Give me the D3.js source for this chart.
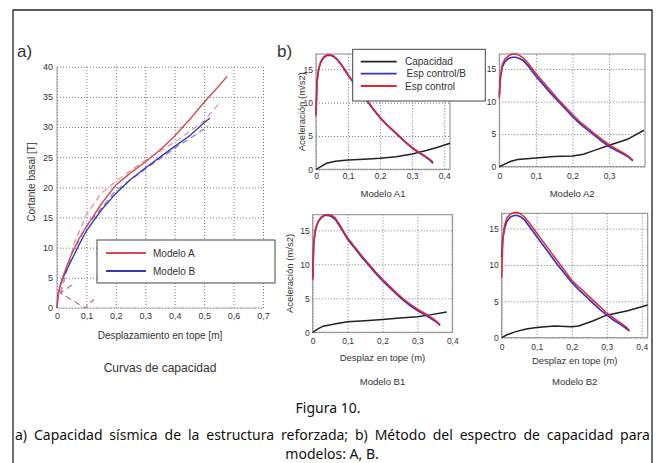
<!DOCTYPE html>
<html>
<head>
<meta charset="utf-8">
<script src="https://cdn.jsdelivr.net/npm/d3@7"></script>
<style>
  body { margin: 0; background: #fff; }
  svg { display: block; }
  .plot text { font-family: "Liberation Sans", Arial, sans-serif; fill: #333; }
  .caption { font-family: "Noto Sans", sans-serif; font-size: 14px; fill: #111; }
</style>
</head>
<body>
<svg id="fig" width="656" height="463"></svg>
<script>
// ---- a) curvas de capacidad ----
var despModeloA = [0, 0.005, 0.015, 0.03, 0.05, 0.075, 0.1, 0.15, 0.2, 0.25, 0.3, 0.35, 0.4, 0.45, 0.5, 0.55, 0.578];
var cortModeloA = [0, 2.5, 4.5, 6.5, 9, 11.5, 13.5, 17.2, 20.4, 22.4, 24.2, 26.2, 28.5, 31.2, 34.1, 36.8, 38.4];
var despModeloB = [0, 0.003, 0.01, 0.02, 0.035, 0.05, 0.075, 0.1, 0.15, 0.2, 0.25, 0.3, 0.35, 0.4, 0.45, 0.5, 0.52];
var cortModeloB = [0, 2, 3.5, 5, 6.5, 8, 10.5, 12.8, 16.2, 19, 21.3, 23.2, 25, 26.8, 28.5, 30.7, 31.5];
var despBilinA = [0.012, 0.06, 0.1, 0.15, 0.2, 0.3, 0.4, 0.5, 0.555];
var cortBilinA = [2.5, 11, 15.5, 19, 21, 24.5, 27.5, 31, 34.2];
var despBilinB = [0.012, 0.05, 0.1, 0.2, 0.3, 0.4, 0.48, 0.514];
var cortBilinB = [2.5, 9, 13.5, 19.5, 23, 26.5, 29, 30.2];
var despRetorno = [0.05, 0.012, 0.095, 0.125];
var cortRetorno = [3.8, 2.5, 0, 1.4];
var ticksDespA = [0, 0.1, 0.2, 0.3, 0.4, 0.5, 0.6, 0.7];
var ticksCort = [0, 5, 10, 15, 20, 25, 30, 35, 40];

// ---- b) espectro de capacidad ----
var despEsp = [0, 0.003, 0.008, 0.015, 0.025, 0.035, 0.045, 0.055, 0.065, 0.08, 0.1, 0.12, 0.14, 0.16, 0.18, 0.2, 0.22, 0.24, 0.26, 0.28, 0.3, 0.32, 0.34, 0.355, 0.365];
var espA1 = [8.0, 13.0, 15.0, 16.2, 16.9, 17.2, 17.2, 17.0, 16.6, 15.7, 14.2, 12.9, 11.6, 10.3, 9.0, 7.8, 6.8, 5.9, 5.0, 4.1, 3.3, 2.6, 2.0, 1.5, 1.1];
var espBA1 = [8.2, 13.1, 15.0, 16.1, 16.8, 17.1, 17.1, 16.9, 16.5, 15.6, 14.1, 12.8, 11.5, 10.2, 8.9, 7.7, 6.7, 5.8, 4.9, 4.0, 3.2, 2.5, 1.9, 1.4, 0.9];
var espA2 = [10.5, 13.8, 15.6, 16.5, 17.0, 17.3, 17.3, 17.1, 16.7, 15.8, 14.3, 13.0, 11.7, 10.4, 9.2, 8.0, 6.9, 6.0, 5.1, 4.2, 3.4, 2.7, 2.1, 1.5, 1.0];
var espBA2 = [11.0, 13.6, 15.3, 16.1, 16.6, 16.8, 16.8, 16.6, 16.3, 15.4, 13.9, 12.6, 11.3, 10.1, 8.9, 7.7, 6.6, 5.7, 4.8, 3.9, 3.1, 2.5, 1.9, 1.4, 0.9];
var espB1 = [7.7, 13.2, 15.2, 16.3, 17.0, 17.3, 17.3, 17.2, 16.8, 15.6, 13.9, 12.6, 11.3, 10.1, 8.9, 7.8, 6.8, 5.8, 4.9, 4.1, 3.4, 2.8, 2.2, 1.6, 1.1];
var espBB1 = [7.9, 13.1, 15.1, 16.2, 16.9, 17.2, 17.2, 17.0, 16.6, 15.4, 13.7, 12.4, 11.1, 9.9, 8.7, 7.6, 6.6, 5.6, 4.7, 3.9, 3.2, 2.6, 2.0, 1.5, 1.0];
var espB2 = [8.2, 13.4, 15.4, 16.5, 17.0, 17.2, 17.2, 17.0, 16.6, 15.7, 14.4, 13.1, 11.8, 10.5, 9.2, 7.9, 7.0, 6.1, 5.2, 4.3, 3.4, 2.7, 2.0, 1.5, 1.0];
var espBB2 = [11.1, 13.5, 15.0, 16.0, 16.6, 16.8, 16.8, 16.6, 16.2, 15.2, 13.9, 12.6, 11.3, 10.0, 8.8, 7.6, 6.6, 5.7, 4.8, 3.9, 3.1, 2.4, 1.8, 1.3, 0.9];

var despCapA1 = [0, 0.015, 0.033, 0.06, 0.1, 0.15, 0.2, 0.25, 0.3, 0.35, 0.38, 0.418];
var capA1 = [0, 0.4, 0.9, 1.2, 1.4, 1.5, 1.65, 1.9, 2.3, 2.9, 3.3, 3.9];
var despCapA2 = [0, 0.015, 0.03, 0.05, 0.1, 0.15, 0.2, 0.23, 0.26, 0.3, 0.35, 0.395];
var capA2 = [0, 0.4, 0.8, 1.1, 1.35, 1.55, 1.65, 1.9, 2.5, 3.3, 4.2, 5.6];
var despCapB1 = [0, 0.015, 0.03, 0.07, 0.1, 0.15, 0.2, 0.25, 0.3, 0.34, 0.384];
var capB1 = [0, 0.5, 0.9, 1.3, 1.55, 1.7, 1.9, 2.1, 2.3, 2.6, 3.0];
var despCapB2 = [0, 0.015, 0.038, 0.07, 0.1, 0.15, 0.2, 0.22, 0.26, 0.3, 0.36, 0.417];
var capB2 = [0, 0.4, 0.8, 1.2, 1.4, 1.6, 1.5, 1.6, 2.3, 3.1, 3.7, 4.5];
var ticksDespB = [0, 0.1, 0.2, 0.3, 0.4];
var ticksAcel = [0, 5, 10, 15];

var svg = d3.select("#fig");
svg.append("rect").attr("width", 656).attr("height", 463).attr("fill", "#fff");

function fmt(d) { return String(d).replace(".", ","); }
function pts(xs, ys) { return xs.map(function(v, i) { return [v, ys[i]]; }); }

// outer frame
svg.append("path")
    .attr("d", "M13,463V10H652V463")
    .attr("fill", "none").attr("stroke", "#222").attr("stroke-width", 1.3);

// ===== panel a =====
var pa = svg.append("g").attr("class", "plot");
var xa = d3.scaleLinear().domain([0, 0.7]).range([57, 263]);
var ya = d3.scaleLinear().domain([0, 40]).range([308, 66.7]);

pa.append("g")
    .attr("transform", "translate(0,308)")
    .call(d3.axisBottom(xa).tickValues(ticksDespA).tickFormat(fmt).tickSize(-(308 - 66.7)).tickPadding(5))
    .call(function(g) { g.select(".domain").remove(); });
pa.append("g")
    .attr("transform", "translate(57,0)")
    .call(d3.axisLeft(ya).tickValues(ticksCort).tickSize(-(263 - 57)).tickPadding(4))
    .call(function(g) { g.select(".domain").remove(); });
pa.selectAll(".tick line").attr("stroke", "#777").attr("stroke-dasharray", "1,2");
pa.selectAll(".tick text").attr("font-size", 9);
pa.append("line").attr("x1", 57).attr("x2", 57).attr("y1", 66.7).attr("y2", 308).attr("stroke", "#999");
pa.append("line").attr("x1", 57).attr("x2", 263).attr("y1", 308).attr("y2", 308).attr("stroke", "#bbb");

var lineA = d3.line().x(function(d) { return xa(d[0]); }).y(function(d) { return ya(d[1]); });
pa.append("path").attr("d", lineA(pts(despBilinB, cortBilinB)))
    .attr("fill", "none").attr("stroke", "#8a7cc9").attr("stroke-width", 1.2).attr("stroke-dasharray", "6,4");
pa.append("path").attr("d", lineA(pts(despBilinA, cortBilinA)))
    .attr("fill", "none").attr("stroke", "#dc8d9b").attr("stroke-width", 1.2).attr("stroke-dasharray", "6,4");
pa.append("path").attr("d", lineA(pts(despRetorno, cortRetorno)))
    .attr("fill", "none").attr("stroke", "#b06c8e").attr("stroke-width", 1.2).attr("stroke-dasharray", "6,4");
pa.append("path").attr("d", lineA(pts(despModeloB, cortModeloB)))
    .attr("fill", "none").attr("stroke", "#3a3ab8").attr("stroke-width", 1.4);
pa.append("path").attr("d", lineA(pts(despModeloA, cortModeloA)))
    .attr("fill", "none").attr("stroke", "#d64a4e").attr("stroke-width", 1.4);

pa.append("text").attr("x", 17).attr("y", 57).attr("font-size", 17).text("a)");
pa.append("text").attr("transform", "translate(35,182) rotate(-90)")
    .attr("text-anchor", "middle").attr("font-size", 10).text("Cortante basal [T]");
pa.append("text").attr("x", 160).attr("y", 339).attr("text-anchor", "middle")
    .attr("font-size", 10).text("Desplazamiento en tope [m]");
pa.append("text").attr("x", 160).attr("y", 372).attr("text-anchor", "middle")
    .attr("font-size", 12).text("Curvas de capacidad");

// legend a
var legA = pa.append("g");
legA.append("rect").attr("x", 97).attr("y", 240).attr("width", 178).attr("height", 43)
    .attr("fill", "#fff").attr("stroke", "#444").attr("stroke-width", 1);
[["Modelo A", "#d64a4e", 253], ["Modelo B", "#3a3ab8", 271]].forEach(function(e) {
  legA.append("line").attr("x1", 106).attr("x2", 146).attr("y1", e[2]).attr("y2", e[2])
      .attr("stroke", e[1]).attr("stroke-width", 1.8);
  legA.append("text").attr("x", 153).attr("y", e[2] + 3.5).attr("font-size", 10).text(e[0]);
});

// ===== panel b =====
var pb = svg.append("g").attr("class", "plot");
pb.append("text").attr("x", 277).attr("y", 57).attr("font-size", 17).text("b)");

function subplot(cfg) {
  var g = pb.append("g");
  var x = d3.scaleLinear().domain([0, cfg.xmax]).range([cfg.left, cfg.right]);
  var y = d3.scaleLinear().domain([0, cfg.ymax]).range([cfg.bottom, cfg.top]);
  var h = cfg.bottom - cfg.top, w = cfg.right - cfg.left;

  g.append("g")
      .attr("transform", "translate(0," + cfg.bottom + ")")
      .call(d3.axisBottom(x).tickValues(ticksDespB.filter(function(t) { return t <= cfg.xmax + 1e-6; }))
        .tickFormat(fmt).tickSize(-h).tickPadding(cfg.xpad))
      .call(function(s) { s.select(".domain").remove(); });
  g.append("g")
      .attr("transform", "translate(" + cfg.left + ",0)")
      .call(d3.axisLeft(y).tickValues(ticksAcel).tickSize(-w).tickPadding(3))
      .call(function(s) { s.select(".domain").remove(); });
  g.selectAll(".tick line").attr("stroke", "#777").attr("stroke-dasharray", "1,2");
  g.selectAll(".tick text").attr("font-size", 8.5);
  g.append("rect").attr("x", cfg.left).attr("y", cfg.top).attr("width", w).attr("height", h)
      .attr("fill", "none").attr("stroke", "#888").attr("stroke-width", 1);

  var line = d3.line().x(function(d) { return x(d[0]); }).y(function(d) { return y(d[1]); });
  g.append("path").attr("d", line(pts(cfg.capX, cfg.cap)))
      .attr("fill", "none").attr("stroke", "#222").attr("stroke-width", 1.5);
  g.append("path").attr("d", line(pts(despEsp, cfg.espB)))
      .attr("fill", "none").attr("stroke", "#3434c8").attr("stroke-width", 1.7);
  g.append("path").attr("d", line(pts(despEsp, cfg.esp)))
      .attr("fill", "none").attr("stroke", "#e3262b").attr("stroke-width", 1.5);

  if (cfg.ylabel) {
    g.append("text").attr("transform", "translate(" + cfg.ylabelX + "," + (cfg.top + h / 2) + ") rotate(-90)")
        .attr("text-anchor", "middle").attr("font-size", 9.5).text("Aceleración (m/s2)");
  }
  var cx = cfg.left + w / 2;
  if (cfg.xlabel) {
    g.append("text").attr("x", cx).attr("y", cfg.xlabelY).attr("text-anchor", "middle")
        .attr("font-size", 9.5).text("Desplaz en tope (m)");
  }
  g.append("text").attr("x", cx).attr("y", cfg.titleY).attr("text-anchor", "middle")
      .attr("font-size", 9.5).text(cfg.title);
}

subplot({left: 316, right: 450, top: 54, bottom: 169.3, xmax: 0.418, ymax: 17.3, xpad: 4,
  esp: espA1, espB: espBA1, capX: despCapA1, cap: capA1, title: "Modelo A1", titleY: 197,
  ylabel: true, ylabelX: 305});
subplot({left: 499.3, right: 645, top: 54, bottom: 166.7, xmax: 0.398, ymax: 17.3, xpad: 6,
  esp: espA2, espB: espBA2, capX: despCapA2, cap: capA2, title: "Modelo A2", titleY: 197});
subplot({left: 312.7, right: 452.3, top: 214.7, bottom: 332.3, xmax: 0.4, ymax: 17.3, xpad: 6,
  esp: espB1, espB: espBB1, capX: despCapB1, cap: capB1, title: "Modelo B1", titleY: 385,
  ylabel: true, ylabelX: 293, xlabel: true, xlabelY: 361});
subplot({left: 501.7, right: 647.7, top: 213.3, bottom: 337.7, xmax: 0.417, ymax: 17.1, xpad: 6,
  esp: espB2, espB: espBB2, capX: despCapB2, cap: capB2, title: "Modelo B2", titleY: 385,
  xlabel: true, xlabelY: 364});

// legend b
var legB = pb.append("g");
legB.append("rect").attr("x", 352.7).attr("y", 49.3).attr("width", 132.6).attr("height", 51.7)
    .attr("fill", "#fff").attr("stroke", "#444").attr("stroke-width", 1);
[["Capacidad", "#222", 61.7, 405], ["Esp control/B", "#3434c8", 73.7, 406.5], ["Esp control", "#e3262b", 86, 405]].forEach(function(e) {
  legB.append("line").attr("x1", 360.7).attr("x2", 396.7).attr("y1", e[2]).attr("y2", e[2])
      .attr("stroke", e[1]).attr("stroke-width", 1.8);
  legB.append("text").attr("x", e[3]).attr("y", e[2] + 3.5).attr("font-size", 10).text(e[0]);
});

// ===== caption (justified first line, centered last line) =====
svg.append("text").attr("class", "caption").attr("x", 328).attr("y", 413)
    .attr("text-anchor", "middle").text("Figura 10.");
var line1 = svg.append("text").attr("class", "caption").attr("x", 15).attr("y", 440)
    .text("a) Capacidad sísmica de la estructura reforzada; b) Método del espectro de capacidad para");
var natural = line1.node().getComputedTextLength();
var spaces = line1.text().split(" ").length - 1;
line1.attr("word-spacing", Math.max(0, (650 - 15 - natural) / spaces).toFixed(2));
svg.append("text").attr("class", "caption").attr("x", 332).attr("y", 459)
    .attr("text-anchor", "middle").text("modelos: A, B.");
</script>
</body>
</html>
